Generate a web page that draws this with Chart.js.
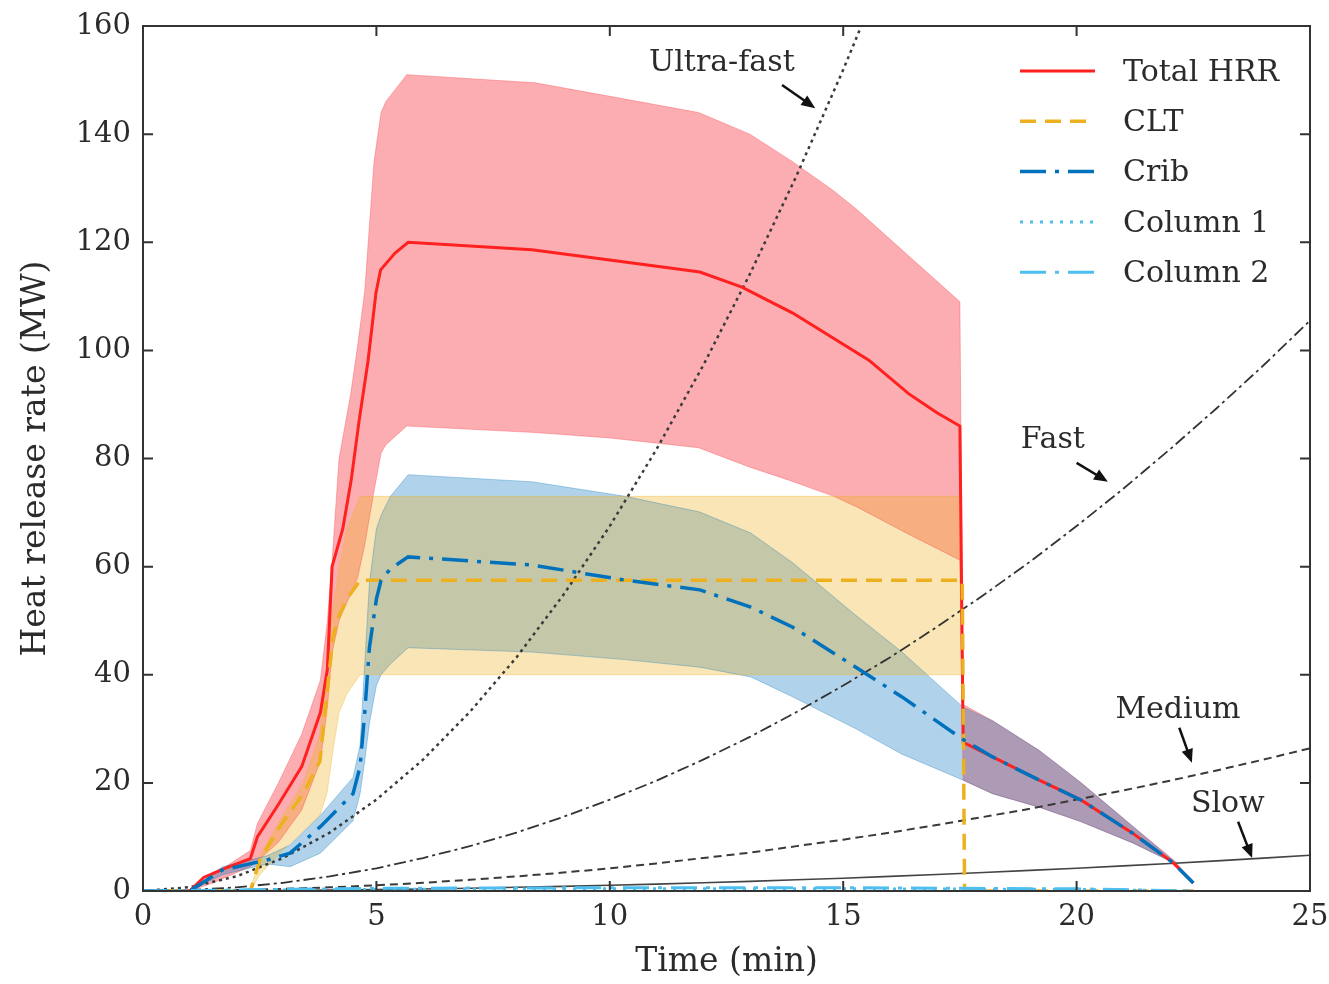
<!DOCTYPE html>
<html>
<head>
<meta charset="utf-8">
<script src="https://cdn.jsdelivr.net/npm/chart.js@4.4.1/dist/chart.umd.min.js"></script>
<style>
  html, body { margin: 0; padding: 0; background: #fff; }
</style>
</head>
<body>
<canvas id="hrrChart" width="1329" height="984"></canvas>
<script>
// Total HRR (mean line)
const hrrTime = [0, 1.0, 1.3, 1.7, 2.3, 2.45, 2.9, 3.4, 3.8, 3.95, 4.05, 4.28, 4.46, 4.63, 4.82, 4.99, 5.09, 5.4, 5.68, 8.33, 10.2, 11.93, 12.83, 13.92, 15.55, 16.4, 17.0, 17.5, 17.57, 18.2, 19.2, 20.1, 21.2, 22.07, 22.5];
const hrrMean = [0, 0, 2.5, 4, 6, 10, 16, 23, 33, 41, 60, 67, 76, 87, 98, 110.6, 114.9, 118, 120, 118.6, 116.5, 114.5, 111.7, 106.9, 98.2, 92, 88.5, 86, 27.5, 24.8, 20.5, 16.8, 10.7, 5.2, 1.5];

// Total HRR band
const hrrBandTime = [0, 1.0, 1.5, 2.3, 2.45, 2.9, 3.4, 3.8, 3.95, 4.05, 4.2, 4.45, 4.6, 4.75, 4.95, 5.1, 5.2, 5.65, 8.4, 10.0, 11.9, 13.0, 13.9, 14.8, 15.3, 16.4, 17.5, 17.57, 18.2, 19.2, 20.1, 21.2, 22.1, 22.5];
const hrrUpper = [0, 0, 3, 7.5, 12.5, 20, 29, 39, 50, 61, 80, 92, 101, 111, 135, 144, 146, 151, 149.5, 147, 144, 140, 135, 129.5, 126, 117.5, 109, 34.5, 31.5, 26, 20, 12, 5.6, 1.5];
const hrrLower = [0, 0, 1.5, 4.5, 5.5, 9, 15, 24, 34, 44, 50, 55, 58, 64, 74, 81, 82.5, 86, 84.8, 83.8, 82, 78.4, 75.8, 73, 71, 66, 61.2, 20.5, 18, 15.5, 12.8, 8.9, 5.2, 1.5];

// CLT
const cltTime = [0, 2.3, 2.5, 2.93, 3.43, 3.79, 3.94, 4.07, 4.2, 4.37, 4.65, 17.55, 17.6, 22.5];
const cltMean = [0, 0, 5.7, 11.9, 18, 24, 36.6, 47, 51, 54, 57.5, 57.5, 0, 0];
const cltBandTime = [2.3, 2.5, 2.93, 3.43, 3.79, 3.94, 4.07, 4.2, 4.37, 4.65, 17.55];
const cltUpper = [0, 6.5, 13, 20, 29, 42, 52, 60, 67, 73, 73];
const cltLower = [0, 3, 7, 11, 14, 18, 26, 33, 36.5, 40, 40];

// Crib
const cribTime = [0, 1.0, 1.7, 2.65, 3.15, 3.8, 4.5, 4.65, 4.75, 4.85, 5.0, 5.1, 5.3, 5.68, 8.33, 10.33, 11.93, 13.02, 13.92, 15.27, 16.26, 17.57, 18.2, 19.2, 20.1, 21.2, 22.07, 22.5];
const cribMean = [0, 0, 3.9, 5.7, 7, 11.9, 18, 23, 33, 45, 54, 57.5, 59.6, 61.8, 60.3, 57.5, 55.7, 52.5, 48.8, 41.4, 35.9, 28, 24.8, 20.5, 16.8, 10.7, 5.2, 1.5];
const cribUpper = [0, 0, 4.5, 6.5, 8.5, 14, 21, 27, 42, 57, 67, 69.5, 73, 77, 75.7, 73, 70.1, 66.2, 60.7, 51, 44.2, 34, 31.5, 26, 20, 12, 5.6, 1.5];
const cribLower = [0, 0, 3, 5, 4.5, 7, 13, 18, 24, 31, 38, 40, 42, 45, 44.2, 42.8, 41.4, 39.6, 35.9, 30, 25.3, 20.5, 18, 15.5, 12.8, 8.9, 5.2, 1.5];

// Columns
const colTime = [0, 5, 10, 15, 20, 22.5];
const column1 = [0, 0.3, 0.4, 0.4, 0.3, 0];
const column2 = [0, 0.5, 0.6, 0.6, 0.4, 0];

// t-squared design fires
const growthTime = [0, 1, 2, 3, 4, 5, 6, 7, 8, 9, 10, 11, 12, 13, 14, 15, 16, 17, 18, 19, 20, 21, 22, 23, 24, 25];
const ultraFast = [0, 0.7, 2.7, 6.1, 10.8, 16.9, 24.3, 33.1, 43.2, 54.7, 67.5, 81.7, 97.2, 114.1, 132.3, 151.9, 172.8];
const fastFire = [0, 0.17, 0.68, 1.52, 2.7, 4.2, 6.1, 8.3, 10.8, 13.7, 16.9, 20.4, 24.3, 28.5, 33.1, 38, 43.2, 48.8, 54.7, 60.9, 67.5, 74.4, 81.7, 89.3, 97.2, 105.5];
const mediumFire = [0, 0.04, 0.17, 0.38, 0.68, 1.05, 1.52, 2.07, 2.7, 3.4, 4.2, 5.1, 6.1, 7.1, 8.3, 9.5, 10.8, 12.2, 13.7, 15.2, 16.9, 18.6, 20.4, 22.3, 24.3, 26.4];
const slowFire = [0, 0.01, 0.04, 0.09, 0.17, 0.26, 0.38, 0.52, 0.68, 0.85, 1.05, 1.28, 1.52, 1.78, 2.07, 2.37, 2.7, 3.05, 3.42, 3.81, 4.22, 4.65, 5.1, 5.58, 6.08, 6.6];

const xTicks = [0, 5, 10, 15, 20, 25];
const yTicks = [0, 20, 40, 60, 80, 100, 120, 140, 160];

const FONT = "'DejaVu Serif', 'Liberation Serif', serif";
const INK = "#2b2b2b";

const pts = (xs, ys) => ys.map((v, i) => ({ x: xs[i], y: v }));

function line(label, data, color, width, dash) {
  return {
    label, data, borderColor: color, borderWidth: width, borderDash: dash || [],
    pointRadius: 0, fill: false, tension: 0
  };
}

function band(data, fillColor, edgeColor, toNext) {
  return {
    data, borderColor: edgeColor, borderWidth: 1, pointRadius: 0, tension: 0,
    backgroundColor: fillColor, fill: toNext ? "+1" : false
  };
}

const datasets = [
  line("Column 2", pts(colTime, column2), "#4DBEEE", 3, [26, 9, 4, 9]),
  line("Column 1", pts(colTime, column1), "#4DBEEE", 3, [3, 7]),
  line("Crib", pts(cribTime, cribMean), "#0072BD", 3.5, [26, 9, 4, 9]),
  line("CLT", pts(cltTime, cltMean), "#EDB120", 3.5, [16, 9]),
  line("Total HRR", pts(hrrTime, hrrMean), "#ff2020", 3),
  line("Ultra-fast", pts(growthTime, ultraFast), "#3a3a3a", 2.5, [3, 4]),
  line("Fast", pts(growthTime, fastFire), "#333", 1.8, [12, 4, 3, 4]),
  line("Medium", pts(growthTime, mediumFire), "#3a3a3a", 2, [8, 5]),
  line("Slow", pts(growthTime, slowFire), "#444", 1.6),
  band(pts(cltBandTime, cltUpper), "rgba(237,177,32,0.33)", "rgba(237,177,32,0.35)", true),
  band(pts(cltBandTime, cltLower), "rgba(237,177,32,0.33)", "rgba(237,177,32,0.35)", false),
  band(pts(cribTime, cribUpper), "rgba(0,114,189,0.31)", "rgba(0,114,189,0.3)", true),
  band(pts(cribTime, cribLower), "rgba(0,114,189,0.31)", "rgba(0,114,189,0.3)", false),
  band(pts(hrrBandTime, hrrUpper), "rgba(248,40,50,0.38)", "rgba(248,40,50,0.3)", true),
  band(pts(hrrBandTime, hrrLower), "rgba(248,40,50,0.38)", "rgba(248,40,50,0.3)", false)
];

const legendCount = 5;

function arrow(ctx, x1, y1, x2, y2) {
  const ang = Math.atan2(y2 - y1, x2 - x1);
  const head = 15;
  ctx.beginPath();
  ctx.moveTo(x1, y1);
  ctx.lineTo(x2 - Math.cos(ang) * head * 0.8, y2 - Math.sin(ang) * head * 0.8);
  ctx.stroke();
  ctx.beginPath();
  ctx.moveTo(x2, y2);
  ctx.lineTo(x2 - head * Math.cos(ang - 0.4), y2 - head * Math.sin(ang - 0.4));
  ctx.lineTo(x2 - head * Math.cos(ang + 0.4), y2 - head * Math.sin(ang + 0.4));
  ctx.closePath();
  ctx.fill();
}

const frameAndNotes = {
  id: "frameAndNotes",
  afterDatasetsDraw(chart) {
    const { ctx, chartArea: a, scales: { x, y } } = chart;
    ctx.save();
    ctx.strokeStyle = "#333";
    ctx.lineWidth = 2;
    ctx.setLineDash([]);
    ctx.strokeRect(a.left, a.top, a.right - a.left, a.bottom - a.top);

    ctx.beginPath();
    xTicks.forEach((v) => {
      const px = x.getPixelForValue(v);
      ctx.moveTo(px, a.bottom); ctx.lineTo(px, a.bottom - 10);
      ctx.moveTo(px, a.top); ctx.lineTo(px, a.top + 10);
    });
    yTicks.forEach((v) => {
      const py = y.getPixelForValue(v);
      ctx.moveTo(a.left, py); ctx.lineTo(a.left + 10, py);
      ctx.moveTo(a.right, py); ctx.lineTo(a.right - 10, py);
    });
    ctx.stroke();

    // curve labels with arrows
    ctx.strokeStyle = "#111";
    ctx.lineWidth = 2.5;
    ctx.font = "30px " + FONT;
    ctx.textAlign = "center";
    ctx.textBaseline = "middle";
    const notes = [
      ["Ultra-fast", 12.4, 153.2, 13.69, 149.1, 14.4, 144.8],
      ["Fast", 19.49, 83.4, 20.0, 79.2, 20.67, 75.7],
      ["Medium", 22.17, 33.5, 22.2, 30.2, 22.47, 23.7],
      ["Slow", 23.24, 16.1, 23.46, 12.8, 23.76, 6.1]
    ];
    notes.forEach(([txt, tx, ty, ax, ay, bx, by]) => {
      ctx.fillStyle = INK;
      ctx.fillText(txt, x.getPixelForValue(tx), y.getPixelForValue(ty));
      ctx.fillStyle = "#111";
      arrow(ctx, x.getPixelForValue(ax), y.getPixelForValue(ay), x.getPixelForValue(bx), y.getPixelForValue(by));
    });

    // legend
    ctx.textAlign = "left";
    chart.data.datasets.slice(0, legendCount).reverse().forEach((ds, i) => {
      const ly = a.top + 45 + i * 50.3;
      ctx.beginPath();
      ctx.strokeStyle = ds.borderColor;
      ctx.lineWidth = ds.borderWidth;
      ctx.setLineDash(ds.borderDash);
      ctx.moveTo(1020, ly);
      ctx.lineTo(1095, ly);
      ctx.stroke();
      ctx.setLineDash([]);
      ctx.fillStyle = INK;
      ctx.fillText(ds.label, 1123, ly + 2);
    });
    ctx.restore();
  }
};

new Chart(document.getElementById("hrrChart"), {
  type: "line",
  data: { datasets },
  options: {
    responsive: false,
    animation: false,
    layout: { padding: { top: 26, right: 19, left: 0, bottom: 0 } },
    plugins: {
      legend: { display: false },
      tooltip: { enabled: false },
      filler: { drawTime: "beforeDatasetsDraw" }
    },
    scales: {
      x: {
        type: "linear", min: 0, max: 25,
        afterFit: (s) => { s.height = 93; s.paddingLeft = 0; s.paddingRight = 0; },
        ticks: { stepSize: 5, padding: 9, color: INK, font: { family: FONT, size: 29 } },
        grid: { display: false, drawTicks: false },
        border: { display: false },
        title: { display: true, text: "Time (min)", color: INK, font: { family: FONT, size: 33, lineHeight: 1.2 }, padding: { top: 0, bottom: 2 } }
      },
      y: {
        min: 0, max: 160,
        afterFit: (s) => { s.width = 143; s.paddingTop = 0; s.paddingBottom = 0; },
        ticks: { stepSize: 20, padding: 12, color: INK, font: { family: FONT, size: 29 } },
        grid: { display: false, drawTicks: false },
        border: { display: false },
        title: { display: true, text: "Heat release rate (MW)", color: INK, font: { family: FONT, size: 33, lineHeight: 1.2 }, padding: { top: 17, bottom: 0 } }
      }
    }
  },
  plugins: [frameAndNotes]
});
</script>
</body>
</html>
